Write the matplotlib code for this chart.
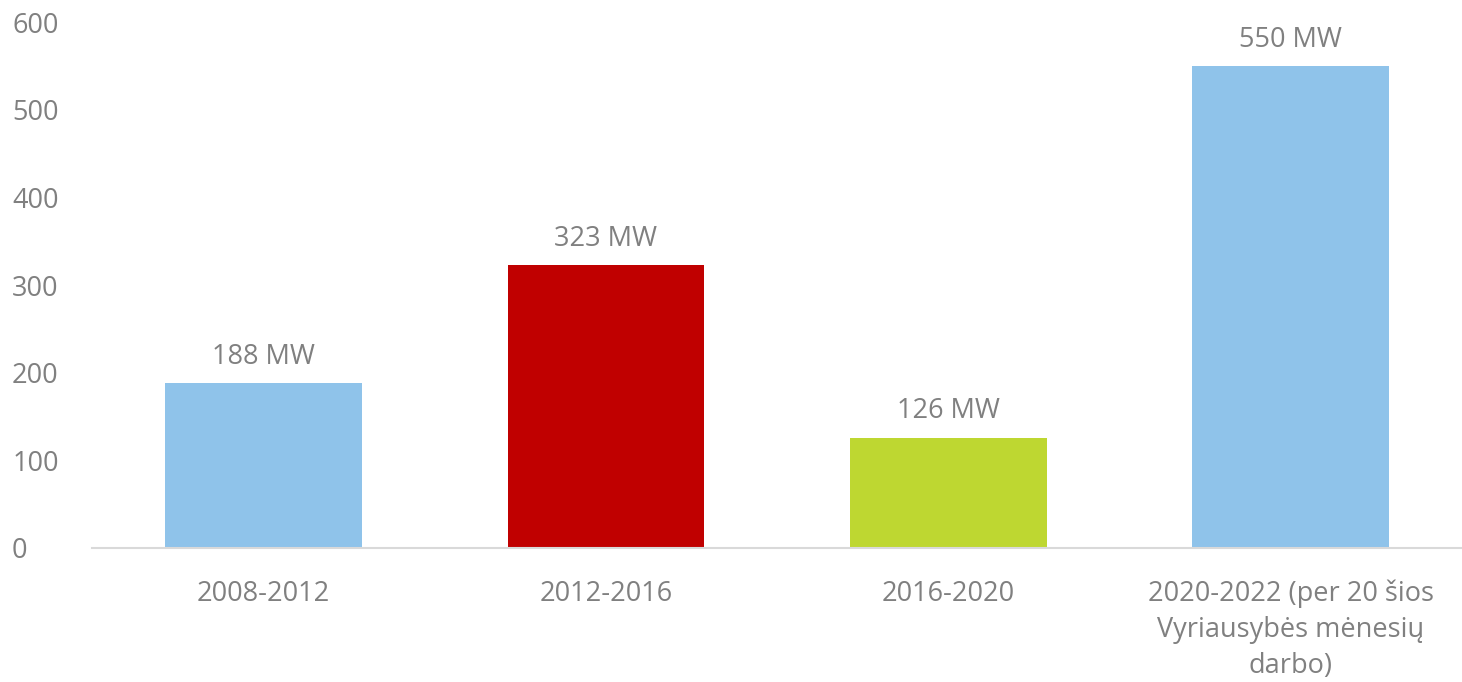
import matplotlib.pyplot as plt
import numpy as np

# --- data ---
categories = ['2008-2012', '2012-2016', '2016-2020',
              '2020-2022 (per 20 šios\nVyriausybės mėnesių\ndarbo)']
values = [188, 323, 126, 550]
labels = ['188 MW', '323 MW', '126 MW', '550 MW']
colors = ['#8FC3EA', '#C00000', '#BED731', '#8FC3EA']

text_col = '#808080'
plt.rcParams['font.family'] = ['Open Sans', 'DejaVu Sans']

fig = plt.figure(figsize=(14.62, 6.82), dpi=100)
ax = fig.add_axes([0.063, 0.1965, 0.937, 0.7712])

x = np.arange(len(categories))
bars = ax.bar(x, values, width=0.574, color=colors)

for xi, v, lab in zip(x, values, labels):
    ax.text(xi, v + 14, lab, ha='center', va='bottom', fontsize=19.5, color=text_col)

ax.set_xlim(-0.5, len(categories) - 0.5)
ax.set_ylim(0, 600)
ax.set_yticks(np.arange(0, 601, 100))
ax.set_xticks(x)
ax.set_xticklabels(categories, fontsize=19.5, color=text_col, linespacing=1.36)
ax.tick_params(axis='y', labelsize=19.5, colors=text_col, length=0, pad=57.6)
ax.tick_params(axis='x', length=0, pad=23)
for lbl in ax.get_yticklabels():
    lbl.set_horizontalalignment('left')

for s in ['top', 'right', 'left']:
    ax.spines[s].set_visible(False)
ax.spines['bottom'].set_color('#D9D9D9')
ax.spines['bottom'].set_linewidth(1.5)

plt.savefig('out.png', dpi=100)
